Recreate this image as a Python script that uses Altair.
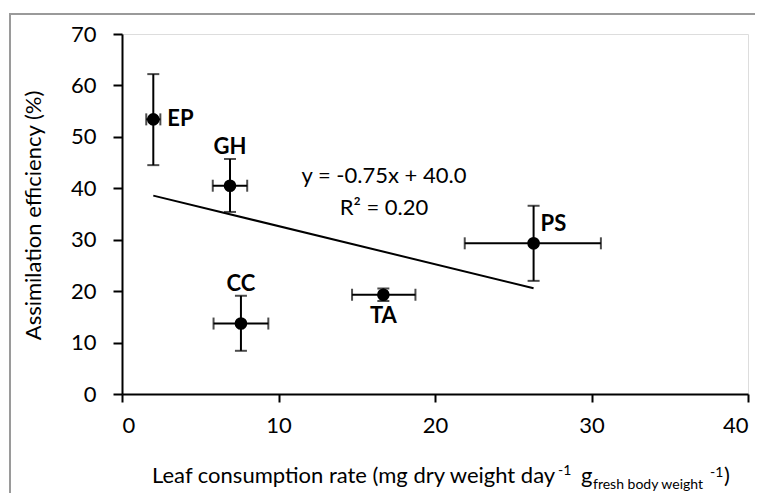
import altair as alt
import pandas as pd

names = ["EP", "GH", "CC", "TA", "PS"]
consumption = [2.0, 6.9, 7.6, 16.7, 26.3]
assimilation = [53.4, 40.5, 13.7, 19.3, 29.3]
x_low = [1.55, 5.8, 5.85, 14.7, 21.9]
x_high = [2.45, 8.0, 9.35, 18.75, 30.6]
y_low = [44.5, 35.4, 8.4, 18.1, 22.0]
y_high = [62.2, 45.7, 19.1, 20.5, 36.6]

# label placement: (dx, dy, align)
label_pos = {
    "EP": (14, 0, "left"),
    "GH": (0, -39, "center"),
    "CC": (0, -40, "center"),
    "TA": (0, 21, "center"),
    "PS": (7, -19, "left"),
}

df = pd.DataFrame({
    "name": names, "x": consumption, "y": assimilation,
    "xlo": x_low, "xhi": x_high, "ylo": y_low, "yhi": y_high,
})

FONT = "Lato"
FS = 22
xs = alt.Scale(domain=[0, 40])
ys = alt.Scale(domain=[0, 70])

base = alt.Chart(df)

xaxis = alt.Axis(values=[0, 10, 20, 30, 40], grid=False, domainColor="black",
                 domainWidth=2, tickColor="black", tickWidth=2, tickSize=8,
                 labelFontSize=FS, labelFont=FONT, labelColor="black",
                 labelPadding=13, title=None)
yaxis = alt.Axis(values=[0, 10, 20, 30, 40, 50, 60, 70], grid=False,
                 domainColor="black", domainWidth=2, tickColor="black",
                 tickWidth=2, tickSize=9, labelFontSize=FS, labelFont=FONT,
                 labelColor="black", labelPadding=17,
                 title="Assimilation efficiency (%)", titleFont=FONT,
                 titleFontSize=FS, titleFontWeight="normal", titleColor="black",
                 titleAngle=-90, titleX=-89, titleY=181, titleAlign="center",
                 titleBaseline="middle")

border = alt.Chart(pd.DataFrame({"a": [0]})).mark_rect(
    fill=None, stroke="#9a9a9a", strokeWidth=2
).encode(x=alt.value(-112), x2=alt.value(700), y=alt.value(-20), y2=alt.value(520))

vbar = base.mark_rule(color="black", strokeWidth=2).encode(
    x=alt.X("x:Q", scale=xs, axis=xaxis),
    y=alt.Y("ylo:Q", scale=ys, axis=yaxis),
    y2="yhi:Q",
)
hbar = base.mark_rule(color="black", strokeWidth=2).encode(
    x=alt.X("xlo:Q", scale=xs), x2="xhi:Q", y=alt.Y("y:Q", scale=ys)
)
vcap_lo = base.mark_tick(color="black", thickness=2, size=12, orient="horizontal").encode(
    x=alt.X("x:Q", scale=xs), y=alt.Y("ylo:Q", scale=ys))
vcap_hi = base.mark_tick(color="black", thickness=2, size=12, orient="horizontal").encode(
    x=alt.X("x:Q", scale=xs), y=alt.Y("yhi:Q", scale=ys))
hcap_lo = base.mark_tick(color="black", thickness=2, size=12, orient="vertical").encode(
    x=alt.X("xlo:Q", scale=xs), y=alt.Y("y:Q", scale=ys))
hcap_hi = base.mark_tick(color="black", thickness=2, size=12, orient="vertical").encode(
    x=alt.X("xhi:Q", scale=xs), y=alt.Y("y:Q", scale=ys))

points = base.mark_circle(color="black", opacity=1, size=160).encode(
    x=alt.X("x:Q", scale=xs), y=alt.Y("y:Q", scale=ys))

trend = base.transform_regression("x", "y").mark_line(color="black", strokeWidth=2).encode(
    x=alt.X("x:Q", scale=xs), y=alt.Y("y:Q", scale=ys))

labels = []
for n in names:
    dx, dy, al = label_pos[n]
    labels.append(
        base.transform_filter(alt.datum.name == n).mark_text(
            font=FONT, fontSize=FS, fontWeight="bold", color="black",
            dx=dx, dy=dy, align=al, baseline="middle"
        ).encode(x=alt.X("x:Q", scale=xs), y=alt.Y("y:Q", scale=ys), text="name:N")
    )

eq_lines = ["y = -0.75x + 40.0", "R² = 0.20"]
eq_df = pd.DataFrame({"t": eq_lines, "py": [149, 181]})
equation = alt.Chart(eq_df).mark_text(
    font=FONT, fontSize=FS, color="black", align="center", baseline="alphabetic"
).encode(x=alt.value(262), y=alt.Y("py:Q", scale=None), text="t:N")

title_parts = ["Leaf consumption rate (mg dry weight day", "-1", "g", "fresh body weight", "-1", ")"]
title_df = pd.DataFrame({
    "t": title_parts,
    "px": [30, 436, 459, 471, 588, 602],
    "py": [449, 441, 449, 455, 443, 449],
    "fs": [FS, 14, FS, 14, 14, FS],
})
xtitle = alt.Chart(title_df).mark_text(
    font=FONT, color="black", align="left", baseline="alphabetic"
).encode(
    x=alt.X("px:Q", scale=None), y=alt.Y("py:Q", scale=None), text="t:N",
    size=alt.Size("fs:Q", scale=None, legend=None),
)

chart = alt.layer(
    border, trend, vbar, hbar, vcap_lo, vcap_hi, hcap_lo, hcap_hi, points,
    *labels, equation, xtitle
).properties(
    width=626, height=360,
    padding={"left": 114, "top": 26, "right": 7, "bottom": 99},
    autosize=alt.AutoSizeParams(type="none"),
).configure_view(stroke=None).configure(background="white")

chart.save("out.html", embed_options={"renderer": "svg", "actions": False})
